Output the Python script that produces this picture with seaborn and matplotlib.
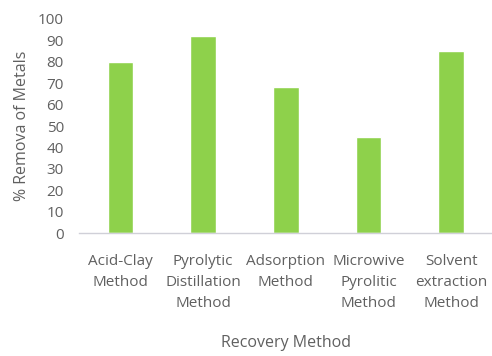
import matplotlib
matplotlib.use('Agg')
import matplotlib.pyplot as plt
import seaborn as sns
import pandas as pd

methods = ['Acid-Clay\nMethod', 'Pyrolytic\nDistillation\nMethod', 'Adsorption\nMethod',
           'Microwive\nPyrolitic\nMethod', 'Solvent\nextraction\nMethod']
removal = [80, 92, 68, 45, 85]
yticks = list(range(0, 101, 10))

df = pd.DataFrame({'Method': methods, 'Removal': removal})

sns.set_style("white")
plt.rcParams['font.family'] = ['Open Sans', 'DejaVu Sans']
text_color = '#606060'

fig = plt.figure(figsize=(4.92, 3.56), dpi=100)
ax = fig.add_axes([0.161, 0.345, 0.84, 0.602])

sns.barplot(data=df, x='Method', y='Removal', color='#8ED14B', width=0.31,
            saturation=1, ax=ax)

ax.set_ylim(0, 100)
ax.set_xlim(-0.5, 4.5)
ax.set_yticks(yticks)
ax.tick_params(axis='y', length=0, labelsize=11, labelcolor=text_color, pad=11)
ax.tick_params(axis='x', length=0, labelsize=11, labelcolor=text_color, pad=15)
for lbl in ax.get_xticklabels():
    lbl.set_linespacing(1.55)

for s in ['top', 'right', 'left']:
    ax.spines[s].set_visible(False)
ax.spines['bottom'].set_color('#d0d0d8')
ax.spines['bottom'].set_linewidth(1)

ax.set_xlabel('Recovery Method', fontsize=11.5, color=text_color, labelpad=17)
ax.set_ylabel('% Remova of Metals', fontsize=11.5, color=text_color, labelpad=6)

fig.savefig('out.png', dpi=100)
